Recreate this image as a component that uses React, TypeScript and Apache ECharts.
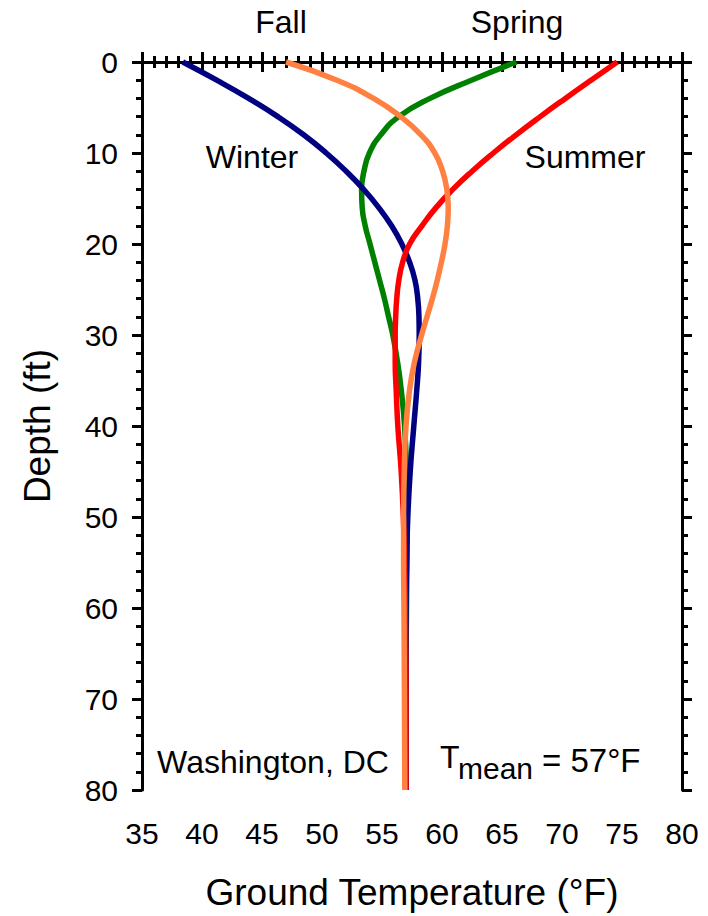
import React, { useEffect, useRef } from "react";
import * as echarts from "echarts";

const depths = [0, 2, 4, 6, 8, 10, 12, 14, 16, 18, 20, 22, 24, 26, 28, 30, 33, 36, 40, 45, 50, 55, 60, 70, 80];
const winter = [38.4, 41.23, 43.89, 46.32, 48.47, 50.35, 52.01, 53.47, 54.73, 55.8, 56.65, 57.3, 57.75, 57.98, 58.08, 58.1, 58.05, 57.9, 57.65, 57.35, 57.15, 57.05, 57.0, 57.0, 57.0];
const spring = [66.2, 62.45, 59.0, 56.4, 54.9, 53.95, 53.5, 53.3, 53.35, 53.6, 54.0, 54.4, 54.8, 55.2, 55.55, 55.9, 56.3, 56.6, 56.88, 57.05, 57.1, 57.08, 57.04, 57.0, 57.0];
const summer = [74.6, 72.42, 70.28, 68.19, 66.18, 64.28, 62.51, 60.9, 59.5, 58.33, 57.3, 56.72, 56.4, 56.23, 56.14, 56.1, 56.1, 56.18, 56.32, 56.6, 56.78, 56.88, 56.94, 57.0, 57.0];
const fall = [47.0, 51.25, 54.3, 56.55, 58.25, 59.4, 60.05, 60.4, 60.52, 60.45, 60.25, 59.95, 59.6, 59.2, 58.75, 58.3, 57.7, 57.3, 57.0, 56.85, 56.8, 56.8, 56.83, 56.87, 56.9];

const seriesDefs = [
  { name: "Spring", values: spring, color: "#008000" },
  { name: "Winter", values: winter, color: "#000080" },
  { name: "Summer", values: summer, color: "#ff0000" },
  { name: "Fall", values: fall, color: "#ff8040" },
];

const FONT = "Liberation Sans, Arial, Helvetica, sans-serif";

export default function App() {
  const ref = useRef<HTMLDivElement>(null);
  useEffect(() => {
    if (!ref.current) return;
    const chart = echarts.init(ref.current, null, { renderer: "svg" });
    const axisLine = { show: true, lineStyle: { color: "#000", width: 3 } };
    const axisTick = { show: true, inside: false, length: 10, lineStyle: { color: "#000", width: 3 } };
    const minorTick = { show: true, splitNumber: 5, length: 6, lineStyle: { color: "#000", width: 3 } };
    const xBase = {
      type: "value",
      min: 35,
      max: 80,
      interval: 5,
      axisLine,
      axisTick,
      minorTick,
      splitLine: { show: false },
    };
    const yBase = {
      type: "value",
      min: 0,
      max: 80,
      interval: 10,
      inverse: true,
      axisLine,
      axisTick,
      minorTick,
      splitLine: { show: false },
    };
    const txt = (text: string, x: number, y: number, align = "center", size = 32) => ({
      type: "text",
      x,
      y,
      style: { text, fontSize: size, fontFamily: FONT, fill: "#000", textAlign: align, textVerticalAlign: "middle" },
    });
    const option: any = {
      animation: false,
      backgroundColor: "#fff",
      textStyle: { fontFamily: FONT },
      grid: { left: 142, right: 26, top: 62, bottom: 126 },
      xAxis: [
        {
          ...xBase,
          position: "bottom",
          name: "Ground Temperature (°F)",
          nameLocation: "middle",
          nameGap: 84,
          nameTextStyle: { fontSize: 37, color: "#000", fontFamily: FONT },
          axisLabel: { fontSize: 30, color: "#000", margin: 28, fontFamily: FONT },
        },
        { ...xBase, position: "top", axisLabel: { show: false } },
      ],
      yAxis: [
        {
          ...yBase,
          position: "left",
          name: "Depth (ft)",
          nameLocation: "middle",
          nameGap: 86,
          nameTextStyle: { fontSize: 37, color: "#000", fontFamily: FONT },
          axisLabel: { fontSize: 30, color: "#000", margin: 24, fontFamily: FONT },
        },
        { ...yBase, position: "right", axisLabel: { show: false } },
      ],
      series: seriesDefs.map((s) => ({
        name: s.name,
        type: "line",
        xAxisIndex: 0,
        yAxisIndex: 0,
        data: s.values.map((t, i) => [t, depths[i]]),
        smooth: 0.5,
        showSymbol: false,
        symbol: "none",
        lineStyle: { color: s.color, width: 5.5 },
        clip: false,
      })),
      graphic: [
        txt("Fall", 281, 22),
        txt("Spring", 517, 22),
        txt("Winter", 252, 157),
        txt("Summer", 585, 157),
        txt("Washington, DC", 273, 762),
        txt("T", 440, 757, "left"),
        txt("mean", 458, 768, "left", 30),
        txt("= 57°F", 542, 760, "left", 33),
      ],
    };
    chart.setOption(option);
    return () => chart.dispose();
  }, []);
  return <div ref={ref} style={{ width: 708, height: 916, position: "absolute", left: 0, top: 0 }} />;
}
